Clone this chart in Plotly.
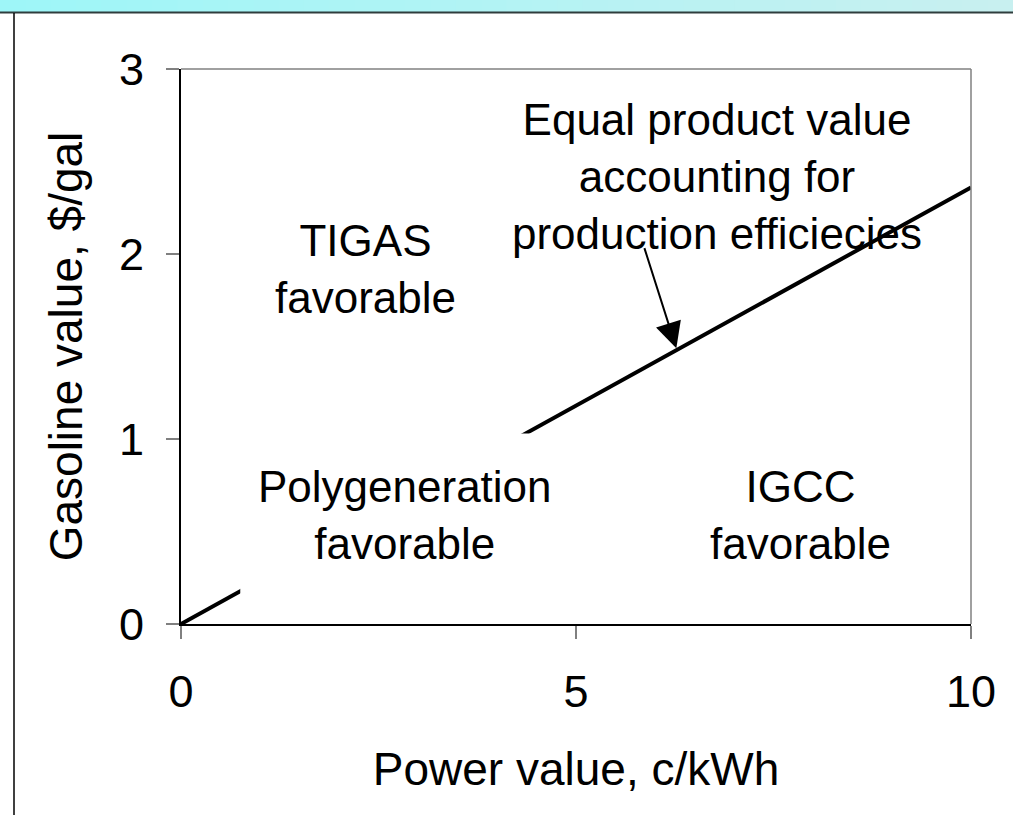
import plotly.graph_objects as go

# Break-even line between polygeneration and IGCC (gasoline $/gal vs power c/kWh)
power_value = [0, 10]
gasoline_value = [0, 2.36]

x_ticks = [0, 5, 10]
y_ticks = [0, 1, 2, 3]

region_labels = ["TIGAS<br>favorable", "Polygeneration<br>favorable", "IGCC<br>favorable"]
region_x = [2.33, 2.84, 7.84]
region_y = [1.92, 0.59, 0.59]

FONT = "Liberation Sans, Arial, sans-serif"

fig = go.Figure()
fig.add_trace(go.Scatter(
    x=power_value, y=gasoline_value, mode="lines",
    line=dict(color="black", width=4), showlegend=False, hoverinfo="skip",
    cliponaxis=False,
))

shapes = []
# white label box that masks the line behind the polygeneration label
shapes.append(dict(type="rect", xref="x", yref="y", x0=0.75, x1=4.9, y0=0.15, y1=1.03,
                   fillcolor="white", line=dict(width=0), layer="above"))

# header band with a horizontal cyan gradient
W, H = 1013, 815
L, R, T, B = 181, 971, 69, 624
def px_x(p):
    return (p - L) / (R - L)
def px_y(p):
    return (B - p) / (B - T)

c0 = (158, 246, 248)
c1 = (200, 240, 240)
n = 40
for i in range(n):
    f = i / (n - 1)
    col = tuple(round(c0[k] + (c1[k] - c0[k]) * f) for k in range(3))
    shapes.append(dict(type="rect", xref="paper", yref="paper",
                       x0=px_x(W * i / n), x1=px_x(W * (i + 1) / n + 1),
                       y0=px_y(12), y1=px_y(0),
                       fillcolor="rgb(%d,%d,%d)" % col, line=dict(width=0), layer="below"))
shapes.append(dict(type="line", xref="paper", yref="paper",
                   x0=px_x(0), x1=px_x(W), y0=px_y(12.5), y1=px_y(12.5),
                   line=dict(color="#2f3d3d", width=2)))
shapes.append(dict(type="line", xref="paper", yref="paper",
                   x0=px_x(14), x1=px_x(14), y0=px_y(13), y1=px_y(H),
                   line=dict(color="black", width=1.5)))
# grey top and right frame of the plot area
shapes.append(dict(type="line", xref="paper", yref="paper", x0=0, x1=1, y0=1, y1=1,
                   line=dict(color="#808080", width=1.5)))
shapes.append(dict(type="line", xref="paper", yref="paper", x0=1, x1=1, y0=0, y1=1,
                   line=dict(color="#808080", width=1.5)))

annotations = []
for txt, ax_, ay_ in zip(region_labels, region_x, region_y):
    annotations.append(dict(x=ax_, y=ay_, xref="x", yref="y", text=txt, showarrow=False,
                            font=dict(family=FONT, size=44, color="black")))
annotations.append(dict(x=6.78, y=2.42, xref="x", yref="y",
                        text="Equal product value<br>accounting for<br>production efficiecies",
                        showarrow=False, font=dict(family=FONT, size=44, color="black")))
annotations.append(dict(x=6.27, y=1.49, xref="x", yref="y", ax=5.86, ay=2.04,
                        axref="x", ayref="y", text="", showarrow=True,
                        arrowhead=2, arrowsize=2.6, arrowwidth=2, arrowcolor="black"))

fig.update_layout(
    width=W, height=H,
    margin=dict(l=L, r=W - R, t=T, b=H - B),
    paper_bgcolor="white", plot_bgcolor="white",
    font=dict(family=FONT, size=45, color="black"),
    shapes=shapes, annotations=annotations,
    xaxis=dict(range=[0, 10], tickvals=x_ticks, showgrid=False, zeroline=False,
               showline=True, linecolor="black", linewidth=2,
               ticks="outside", ticklen=13, tickwidth=1.5, tickcolor="#808080",
               ticklabelstandoff=14, tickfont=dict(size=45),
               title=dict(text="Power value, c/kWh", font=dict(size=46), standoff=37)),
    yaxis=dict(range=[0, 3], tickvals=y_ticks, showgrid=False, zeroline=False,
               showline=True, linecolor="black", linewidth=2,
               ticks="outside", ticklen=13, tickwidth=1.5, tickcolor="#808080",
               ticklabelstandoff=13, tickfont=dict(size=45),
               title=dict(text="Gasoline value, $/gal", font=dict(size=46), standoff=22)),
)

fig.write_html("out.html")
